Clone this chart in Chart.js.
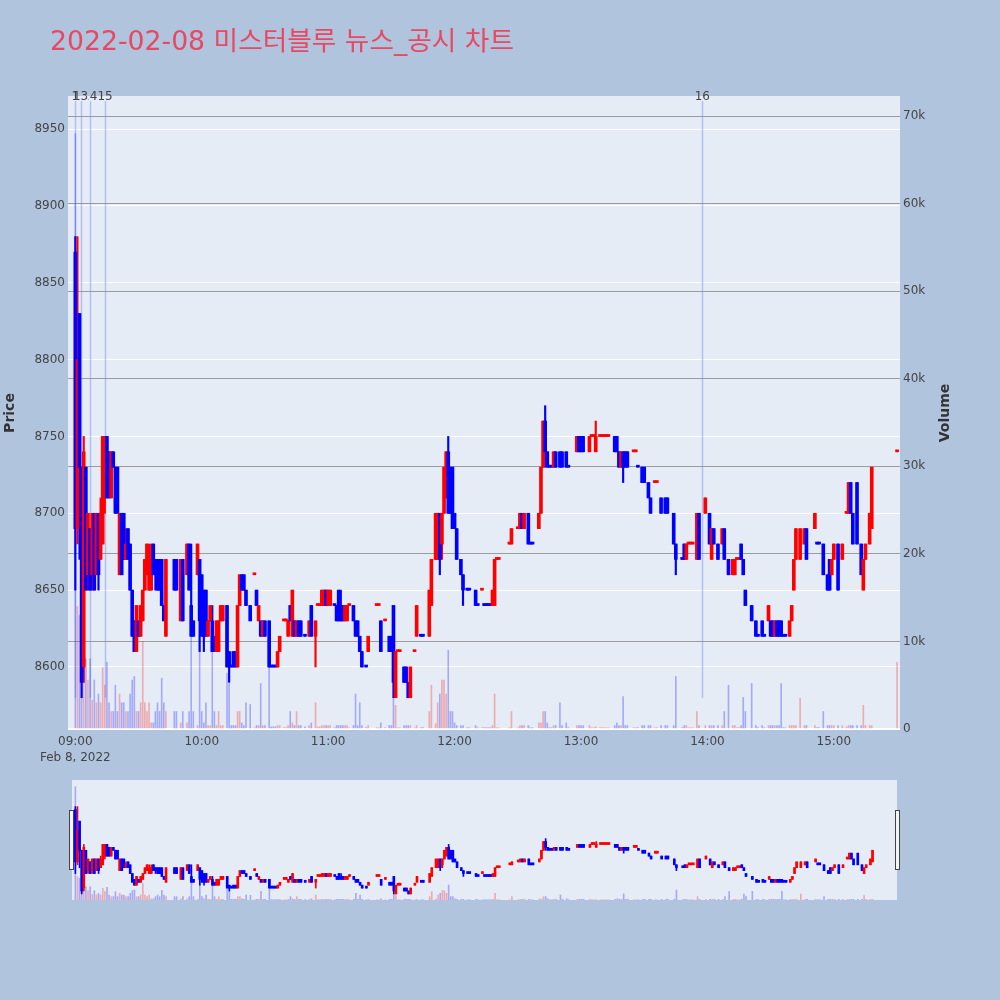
<!DOCTYPE html>
<html><head><meta charset="utf-8">
<script src="https://cdn.jsdelivr.net/npm/chart.js@4.4.1/dist/chart.umd.min.js"></script>
<style>
html,body{margin:0;padding:0;background:#b0c4de;width:1000px;height:1000px;overflow:hidden;}
#main{position:absolute;left:0;top:0;width:1000px;height:1000px;}
#slider{position:absolute;left:72px;top:780px;width:825px;height:120px;}
.handle{position:absolute;top:810px;width:3px;height:58px;background:#f4f4f4;border:1px solid #444;}
</style></head><body>
<canvas id="main" width="1000" height="1000"></canvas>
<canvas id="slider" width="825" height="120"></canvas>
<div class="handle" style="left:69px"></div>
<div class="handle" style="left:895px"></div>
<script>
// ---- data (minutes after 09:00) ----
const minutes = [
0,1,2,3,4,5,6,7,8,9,
10,11,12,13,14,15,16,17,18,19,
20,21,22,23,24,25,26,27,28,29,
30,31,32,33,34,35,36,37,38,39,
40,41,42,43,47,48,50,51,53,54,
55,56,58,59,60,61,62,63,64,65,
66,67,68,69,70,72,73,74,75,76,
77,78,79,80,81,83,85,86,87,88,
89,90,92,93,94,95,96,97,99,100,
101,102,103,104,105,106,107,109,111,112,
114,115,116,117,118,119,120,121,123,124,
125,126,127,128,129,130,132,133,134,135,
136,138,139,143,144,145,147,149,150,151,
152,153,154,156,157,158,159,161,162,164,
165,168,169,171,172,173,174,175,176,177,
178,179,180,181,183,184,186,187,190,191,
193,194,195,196,197,198,199,200,201,206,
207,210,211,212,213,215,216,217,220,221,
222,223,224,225,226,227,228,230,231,233,
234,238,239,240,241,244,245,246,247,249,
250,251,252,253,256,257,258,259,260,261,
262,265,266,267,269,270,272,273,275,276,
278,280,281,284,285,288,289,290,291,292,
293,295,296,299,301,302,303,305,307,308,
310,312,313,314,315,316,317,318,321,323,
324,326,327,329,330,331,332,333,334,335,
336,337,339,340,341,342,344,346,347,351,
352,353,355,357,358,359,360,362,364,366,
367,368,369,371,373,374,375,377,378,390];
const opens = [
8870,8690,8830,8730,8600,8730,8660,8690,8660,8700,
8660,8700,8670,8680,8710,8750,8740,8710,8740,8730,
8730,8660,8700,8700,8670,8690,8680,8650,8630,8610,
8630,8620,8630,8650,8660,8650,8650,8680,8670,8670,
8670,8670,8640,8620,8670,8670,8630,8670,8660,8680,
8640,8630,8660,8670,8660,8650,8650,8620,8630,8630,
8620,8610,8610,8630,8630,8640,8610,8600,8610,8610,
8600,8640,8660,8660,8650,8640,8660,8650,8630,8630,
8620,8630,8630,8600,8600,8600,8600,8610,8630,8630,
8620,8640,8620,8630,8620,8630,8630,8620,8620,8640,
8620,8640,8640,8640,8640,8650,8640,8640,8640,8640,
8650,8640,8640,8630,8630,8640,8640,8630,8630,8620,
8610,8600,8610,8640,8640,8630,8630,8620,8620,8640,
8580,8610,8610,8600,8600,8590,8580,8610,8620,8620,
8620,8620,8640,8670,8670,8700,8680,8700,8710,8740,
8730,8730,8700,8690,8670,8660,8650,8650,8650,8640,
8650,8640,8640,8640,8640,8640,8640,8670,8670,8680,
8680,8690,8690,8700,8690,8700,8680,8680,8690,8700,
8730,8760,8740,8730,8730,8730,8740,8740,8740,8740,
8730,8740,8750,8750,8750,8740,8750,8750,8740,8750,
8750,8750,8750,8750,8750,8750,8740,8730,8740,8740,
8740,8740,8740,8730,8730,8730,8720,8710,8720,8720,
8710,8710,8710,8700,8680,8670,8680,8670,8680,8680,
8680,8670,8700,8700,8700,8670,8690,8680,8680,8690,
8670,8660,8660,8670,8670,8680,8670,8650,8640,8630,
8620,8630,8620,8630,8630,8630,8620,8630,8630,8630,
8620,8620,8620,8630,8650,8670,8670,8680,8690,8690,
8680,8680,8680,8660,8670,8660,8670,8680,8670,8700,
8700,8720,8700,8720,8680,8650,8670,8680,8690,8740];
const highs = [
8880,8880,8830,8730,8750,8730,8700,8690,8700,8700,
8700,8700,8710,8750,8750,8750,8740,8740,8740,8730,
8730,8700,8700,8700,8690,8690,8680,8650,8630,8640,
8630,8640,8650,8670,8680,8680,8680,8680,8670,8670,
8670,8670,8640,8670,8670,8670,8670,8670,8680,8680,
8680,8630,8680,8670,8660,8650,8650,8630,8640,8640,
8620,8630,8630,8640,8640,8640,8610,8600,8610,8610,
8640,8660,8660,8660,8650,8640,8660,8650,8640,8630,
8630,8630,8630,8600,8600,8600,8610,8620,8630,8630,
8630,8640,8650,8630,8630,8630,8630,8620,8630,8640,
8630,8640,8640,8650,8650,8650,8650,8650,8640,8640,
8650,8650,8640,8640,8640,8640,8640,8630,8630,8620,
8610,8600,8620,8640,8640,8630,8630,8620,8620,8640,
8610,8610,8610,8600,8600,8590,8600,8610,8640,8620,
8620,8650,8670,8700,8700,8700,8700,8730,8740,8750,
8730,8730,8700,8690,8670,8660,8650,8650,8650,8640,
8650,8640,8640,8640,8640,8650,8670,8670,8670,8680,
8690,8690,8700,8700,8700,8700,8680,8680,8700,8730,
8760,8770,8740,8730,8730,8740,8740,8740,8740,8740,
8730,8750,8750,8750,8750,8750,8750,8750,8760,8750,
8750,8750,8750,8750,8750,8750,8740,8740,8740,8740,
8740,8740,8740,8730,8730,8730,8720,8710,8720,8720,
8710,8710,8710,8700,8680,8670,8680,8680,8680,8680,
8680,8700,8700,8710,8700,8690,8690,8680,8690,8690,
8670,8670,8670,8670,8670,8680,8670,8650,8640,8630,
8620,8630,8620,8640,8630,8630,8630,8630,8630,8630,
8620,8620,8630,8640,8670,8690,8690,8690,8690,8700,
8680,8680,8680,8660,8670,8670,8680,8680,8680,8700,
8720,8720,8700,8720,8680,8670,8680,8700,8730,8740];
const lows = [
8650,8680,8670,8580,8590,8650,8650,8650,8650,8650,
8660,8650,8670,8680,8700,8710,8710,8710,8730,8700,
8700,8660,8660,8670,8670,8670,8650,8620,8610,8610,
8620,8620,8630,8650,8660,8650,8650,8660,8650,8650,
8650,8640,8630,8620,8650,8650,8630,8630,8660,8650,
8620,8620,8660,8610,8620,8610,8620,8620,8630,8610,
8610,8610,8610,8630,8630,8600,8590,8600,8600,8600,
8600,8640,8650,8650,8640,8630,8660,8640,8630,8620,
8620,8620,8600,8600,8600,8600,8600,8610,8630,8630,
8620,8630,8620,8620,8620,8620,8620,8620,8620,8620,
8600,8640,8640,8640,8640,8640,8640,8640,8640,8630,
8630,8630,8630,8630,8630,8640,8630,8620,8620,8610,
8600,8600,8610,8640,8640,8610,8630,8610,8610,8580,
8580,8610,8610,8590,8590,8580,8580,8610,8620,8620,
8620,8620,8640,8670,8670,8660,8670,8700,8710,8700,
8700,8690,8690,8670,8660,8640,8650,8650,8640,8640,
8650,8640,8640,8640,8640,8640,8640,8670,8670,8680,
8680,8690,8690,8690,8690,8680,8680,8680,8690,8700,
8730,8730,8730,8730,8730,8730,8730,8730,8730,8730,
8730,8740,8740,8740,8740,8740,8750,8750,8740,8750,
8750,8750,8750,8750,8740,8740,8730,8730,8720,8730,
8730,8740,8740,8730,8720,8720,8710,8700,8720,8720,
8700,8700,8700,8680,8660,8670,8670,8670,8680,8680,
8680,8670,8670,8700,8680,8670,8680,8670,8680,8670,
8660,8660,8660,8670,8670,8670,8660,8640,8630,8620,
8620,8620,8620,8630,8620,8620,8620,8620,8620,8620,
8620,8620,8620,8630,8650,8670,8670,8680,8670,8690,
8680,8680,8660,8650,8650,8660,8670,8650,8670,8700,
8700,8700,8680,8680,8660,8650,8670,8680,8690,8740];
const closes = [
8690,8800,8730,8590,8740,8650,8700,8650,8700,8650,
8700,8660,8700,8750,8750,8710,8710,8740,8730,8700,
8700,8700,8660,8670,8680,8670,8650,8620,8610,8640,
8620,8640,8650,8670,8680,8670,8670,8660,8660,8650,
8650,8640,8630,8670,8650,8650,8670,8630,8680,8650,
8620,8620,8680,8630,8620,8620,8620,8630,8640,8610,
8610,8630,8630,8640,8640,8600,8600,8600,8600,8600,
8640,8660,8650,8650,8640,8630,8660,8640,8640,8620,
8630,8620,8600,8600,8600,8600,8610,8620,8630,8630,
8630,8630,8650,8620,8630,8620,8620,8620,8630,8620,
8630,8640,8640,8650,8650,8640,8650,8650,8640,8630,
8630,8630,8630,8640,8640,8640,8630,8620,8620,8610,
8600,8600,8620,8640,8640,8610,8630,8610,8610,8590,
8610,8610,8610,8590,8590,8580,8600,8610,8640,8620,
8620,8650,8670,8700,8700,8670,8700,8730,8740,8700,
8700,8690,8690,8670,8660,8650,8650,8650,8640,8640,
8650,8640,8640,8640,8640,8650,8670,8670,8670,8680,
8690,8690,8700,8690,8700,8680,8680,8680,8700,8730,
8760,8740,8730,8730,8730,8740,8730,8730,8730,8730,
8730,8750,8740,8740,8740,8750,8750,8750,8750,8750,
8750,8750,8750,8750,8740,8740,8730,8740,8730,8730,
8730,8740,8740,8730,8720,8720,8710,8700,8720,8720,
8700,8700,8700,8680,8670,8670,8670,8680,8680,8680,
8680,8700,8670,8710,8680,8690,8680,8670,8690,8670,
8660,8670,8670,8670,8670,8670,8660,8640,8630,8620,
8620,8620,8620,8640,8620,8620,8630,8620,8620,8620,
8620,8620,8630,8640,8670,8690,8690,8690,8670,8700,
8680,8680,8660,8650,8650,8670,8680,8650,8680,8700,
8720,8700,8680,8680,8660,8670,8680,8700,8730,8740];
const volumes = [
68000,14000,13000,18000,12000,8000,5600,8000,3300,5600,
3000,4000,3000,7000,5000,7600,3000,2000,2000,5000,
2000,4000,3000,3000,2000,2000,4000,5600,6000,2000,
2000,3000,10000,3000,2000,3000,700,700,2000,3000,
2000,5800,3000,2000,2000,2000,700,2000,700,2000,
14000,2000,400,10500,2000,700,3000,400,400,10700,
2000,400,2000,400,400,6400,5200,400,400,400,
2000,2000,700,400,3000,2800,150,400,400,5200,
400,400,10700,250,250,250,400,400,150,150,
400,2000,700,400,2000,400,400,250,400,700,
3000,250,250,400,400,400,400,400,150,400,
400,400,400,400,400,150,400,4000,400,3000,
400,150,400,150,150,700,150,400,400,3600,
2700,150,150,400,400,400,400,150,400,150,
150,2000,5000,600,3000,4000,5600,5600,4000,9000,
2000,2000,700,400,400,400,150,150,400,150,
150,150,150,150,150,400,4000,150,150,150,
2000,150,400,400,400,400,150,150,700,700,
2000,2000,700,150,150,400,400,3000,400,700,
150,400,400,400,400,400,150,150,250,150,
150,150,150,150,400,700,400,400,3700,400,
400,150,150,150,400,400,400,400,150,150,
400,400,400,400,6000,150,400,400,150,150,
150,2000,400,400,400,400,400,400,400,2000,
5000,400,400,150,150,400,3600,2000,5200,400,
150,400,150,400,400,400,400,400,400,5200,
150,150,400,400,400,400,3500,400,400,400,
150,150,2000,400,400,400,400,400,400,250,
400,400,400,400,400,2700,400,400,400,7600];

const timeTicks = [0, 60, 120, 180, 240, 300, 360];
const timeTickLabels = ['09:00','10:00','11:00','12:00','13:00','14:00','15:00'];
const dateLabel = 'Feb 8, 2022';
const priceTicks = [8600, 8650, 8700, 8750, 8800, 8850, 8900, 8950];
const volumeTicks = [0, 10000, 20000, 30000, 40000, 50000, 60000, 70000];
const volumeTickLabels = ['0','10k','20k','30k','40k','50k','60k','70k'];
const newsMinutes = [0, 2.5, 6.8, 14.1, 297.6];
const newsLabels = ['1', '13', '14', '15', '16'];
const chartTitle = '2022-02-08 미스터블루 뉴스_공시 차트';

// ---- styling ----
const FONT = '"DejaVu Sans", Verdana, sans-serif';
const UP = '#ff0000', DOWN = '#0000ff';
const UP_VOL = 'rgba(255,0,0,0.28)', DOWN_VOL = 'rgba(0,0,255,0.28)';

// candle direction (plotly rule: doji compares with previous close)
const isUp = [];
(function(){
  let inc = true, prev = null;
  for (let i = 0; i < minutes.length; i++) {
    const o = opens[i], c = closes[i];
    if (c === o) { if (prev !== null && c !== prev) inc = c > prev; }
    else inc = c > o;
    prev = c;
    isUp.push(inc);
  }
})();

function makeDatasets(bodyW, wickW, volW) {
  return [
    { label: 'body', yAxisID: 'y', order: 1, grouped: false,
      data: minutes.map((m, i) => ({ x: m, y: [opens[i], closes[i]] })),
      backgroundColor: isUp.map(u => u ? UP : DOWN),
      barThickness: bodyW, minBarLength: 2 },
    { label: 'wick', yAxisID: 'y', order: 2, grouped: false,
      data: minutes.map((m, i) => ({ x: m, y: [lows[i], highs[i]] })),
      backgroundColor: isUp.map(u => u ? UP : DOWN),
      barThickness: wickW, minBarLength: 1 },
    { label: 'volume', yAxisID: 'y2', order: 3, grouped: false,
      data: minutes.map((m, i) => ({ x: m, y: volumes[i] })),
      backgroundColor: isUp.map(u => u ? UP_VOL : DOWN_VOL),
      barThickness: volW }
  ];
}

const plotBg = {
  id: 'plotBg',
  beforeDraw(chart) {
    const { ctx, chartArea: a } = chart;
    ctx.save();
    ctx.fillStyle = '#e5ecf6';
    ctx.fillRect(a.left, a.top, a.right - a.left, a.bottom - a.top);
    ctx.restore();
  }
};

const annotations = {
  id: 'annotations',
  beforeDatasetsDraw(chart) {
    const { ctx, chartArea: a, scales } = chart;
    const yBottom = scales.y.getPixelForValue(Math.min(...lows));
    ctx.save();
    ctx.strokeStyle = 'rgba(110,140,235,0.45)';
    ctx.lineWidth = 1.5;
    newsMinutes.forEach(m => {
      const x = Math.round(scales.x.getPixelForValue(m)) + 0.5;
      ctx.beginPath(); ctx.moveTo(x, a.top + 5); ctx.lineTo(x, yBottom); ctx.stroke();
    });
    ctx.restore();
  },
  afterDraw(chart) {
    const { ctx, chartArea: a, scales } = chart;
    ctx.save();
    ctx.font = '12px ' + FONT;
    ctx.textAlign = 'center'; ctx.textBaseline = 'middle';
    // news labels: earlier labels stay on top of later overlapping ones
    const boxes = newsMinutes.map((m, i) => {
      const x = scales.x.getPixelForValue(m);
      const w = ctx.measureText(newsLabels[i]).width;
      return { x, l: x - w / 2, w };
    });
    ctx.fillStyle = '#444';
    boxes.forEach((b, i) => {
      ctx.save();
      ctx.beginPath();
      ctx.rect(0, 0, chart.width, chart.height);
      for (let j = 1; j < i; j++) {
        const o = boxes[j];
        if (o.l + o.w > b.l && o.l < b.l + b.w) ctx.rect(o.l, a.top - 10, o.w, 20);
      }
      ctx.clip('evenodd');
      ctx.fillText(newsLabels[i], b.x, a.top + 1);
      ctx.restore();
    });
    // title
    ctx.fillStyle = 'rgb(232,72,98)';
    ctx.font = '26.7px "DejaVu Sans", "Noto Sans CJK KR", sans-serif';
    ctx.textAlign = 'left'; ctx.textBaseline = 'alphabetic';
    ctx.fillText(chartTitle, 50, 50);
    // right axis title
    ctx.translate(945, (a.top + a.bottom) / 2);
    ctx.rotate(-Math.PI / 2);
    ctx.fillStyle = '#333';
    ctx.font = 'bold 14px ' + FONT;
    ctx.textAlign = 'center'; ctx.textBaseline = 'middle';
    ctx.fillText('Volume', 0, 0);
    ctx.restore();
  }
};

const tickFont = { family: FONT, size: 12 };

new Chart(document.getElementById('main'), {
  type: 'bar',
  data: { datasets: makeDatasets(3, 1.5, 1) },
  options: {
    responsive: false, animation: false, events: [],
    layout: { padding: { top: 96, bottom: 230, left: 0, right: 0 } },
    plugins: { legend: { display: false }, tooltip: { enabled: false } },
    scales: {
      x: {
        type: 'linear', min: -3.47, max: 391.4, offset: false,
        grid: { display: false, drawTicks: false }, border: { display: false },
        afterBuildTicks: s => { s.ticks = timeTicks.map(v => ({ value: v })); },
        afterFit: s => { s.height = 40; },
        ticks: {
          autoSkip: false, maxRotation: 0, padding: 4.5, color: '#444',
          font: { family: FONT, size: 12, lineHeight: 1.3 },
          callback: v => {
            const i = timeTicks.indexOf(v);
            return i === 0 ? [timeTickLabels[0], dateLabel] : timeTickLabels[i];
          }
        }
      },
      y: {
        position: 'left', min: 8559, max: 8971.5,
        grid: { color: '#ffffff', lineWidth: 1, drawTicks: false }, border: { display: false },
        afterBuildTicks: s => { s.ticks = priceTicks.map(v => ({ value: v })); },
        afterFit: s => { s.width = 68; },
        ticks: { padding: 3, color: '#444', font: tickFont, callback: v => String(v) },
        title: { display: true, text: 'Price', color: '#333',
                 font: { family: FONT, size: 14, weight: 'bold' }, padding: { top: 2, bottom: 0 } }
      },
      y2: {
        position: 'right', min: -114, max: 72290,
        grid: { color: c => c.tick && c.tick.value === 0 ? '#ffffff' : '#9c9c9c',
                lineWidth: c => c.tick && c.tick.value === 0 ? 2 : 1, drawTicks: false },
        border: { display: false },
        afterBuildTicks: s => { s.ticks = volumeTicks.map(v => ({ value: v })); },
        afterFit: s => { s.width = 100; },
        ticks: { padding: 3, color: '#444', font: tickFont,
                 callback: v => volumeTickLabels[volumeTicks.indexOf(v)] }
      }
    }
  },
  plugins: [plotBg, annotations]
});

// range slider preview
new Chart(document.getElementById('slider'), {
  type: 'bar',
  data: { datasets: makeDatasets(2, 1, 1) },
  options: {
    responsive: false, animation: false, events: [],
    layout: { padding: 0 },
    plugins: { legend: { display: false }, tooltip: { enabled: false } },
    scales: {
      x: { type: 'linear', min: -1.6, max: 389.6, offset: false, display: false },
      y: { min: 8559, max: 8971.5, display: false },
      y2: { min: 0, max: 72000, display: false }
    }
  },
  plugins: [plotBg]
});
</script>
</body></html>
